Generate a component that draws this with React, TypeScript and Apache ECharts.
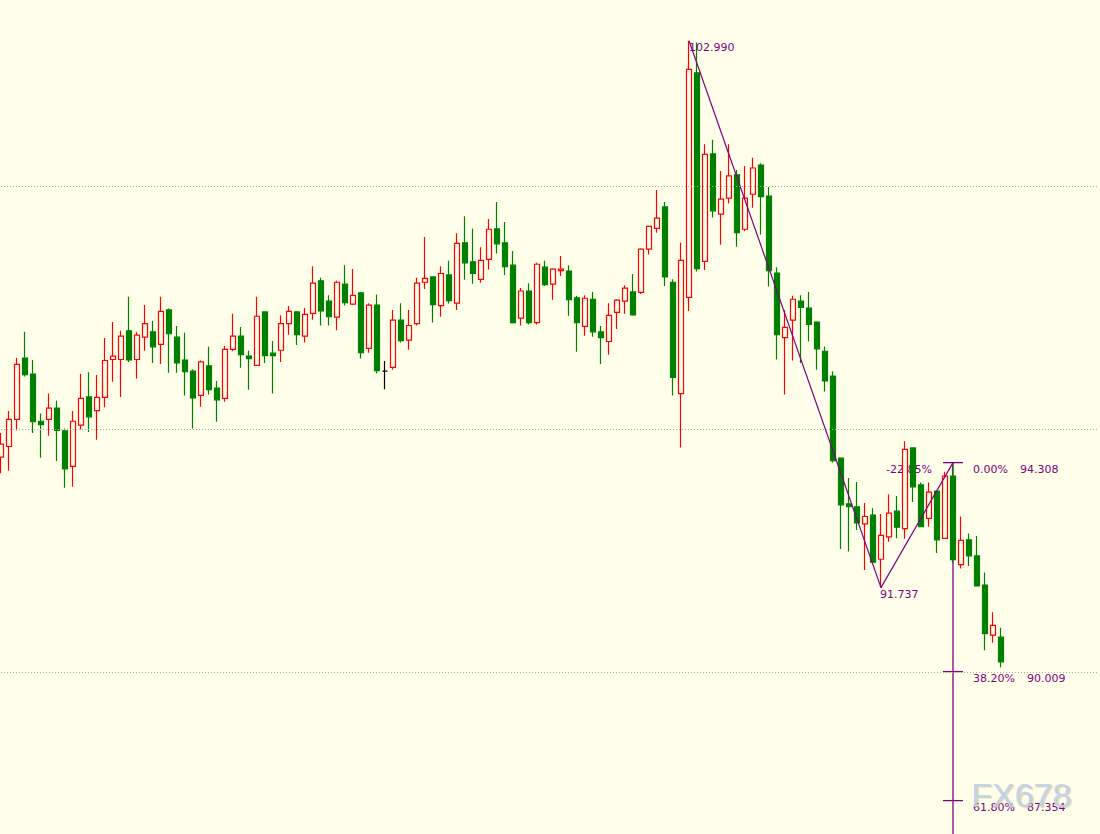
import React, { useEffect, useRef } from "react";
import * as echarts from "echarts";

// [open, close, low, high]
const candles: number[][] = [
  [94.42, 94.69, 94.09, 94.92],
  [94.64, 95.20, 94.14, 95.37],
  [95.20, 96.33, 94.97, 96.46],
  [96.46, 96.12, 96.08, 97.00],
  [96.13, 95.15, 94.92, 96.42],
  [95.16, 95.09, 94.41, 95.32],
  [95.20, 95.43, 94.86, 95.73],
  [95.43, 94.97, 94.34, 95.58],
  [94.96, 94.18, 93.79, 95.01],
  [94.23, 95.16, 93.81, 95.37],
  [95.08, 95.63, 94.99, 96.13],
  [95.66, 95.25, 94.94, 96.17],
  [95.38, 95.65, 94.78, 96.11],
  [95.65, 96.41, 95.45, 96.87],
  [96.43, 96.50, 95.97, 97.20],
  [96.43, 96.91, 95.66, 97.02],
  [97.02, 96.42, 96.38, 97.72],
  [96.43, 96.93, 96.04, 96.99],
  [96.89, 97.17, 96.61, 97.55],
  [97.00, 96.69, 96.36, 97.22],
  [96.74, 97.42, 96.34, 97.72],
  [97.45, 96.96, 96.16, 97.48],
  [96.89, 96.36, 96.16, 97.12],
  [96.42, 96.18, 95.69, 96.98],
  [96.19, 95.64, 95.01, 96.23],
  [95.69, 96.38, 95.46, 96.41],
  [96.30, 95.81, 95.71, 96.69],
  [95.84, 95.60, 95.15, 95.99],
  [95.63, 96.64, 95.56, 96.71],
  [96.64, 96.91, 96.60, 97.37],
  [96.91, 96.53, 96.26, 97.10],
  [96.50, 96.45, 95.81, 96.61],
  [96.31, 97.32, 96.31, 97.72],
  [97.41, 96.51, 96.36, 97.41],
  [96.56, 96.51, 95.73, 96.81],
  [96.62, 97.17, 96.38, 97.34],
  [97.17, 97.42, 96.94, 97.53],
  [97.41, 96.94, 96.73, 97.43],
  [96.91, 97.36, 96.78, 97.49],
  [97.38, 98.00, 97.25, 98.35],
  [98.05, 97.43, 97.13, 98.11],
  [97.63, 97.31, 97.13, 97.75],
  [97.30, 98.02, 97.03, 98.05],
  [97.98, 97.60, 97.54, 98.37],
  [97.57, 97.75, 97.55, 98.29],
  [97.80, 96.57, 96.45, 97.82],
  [96.66, 97.55, 96.57, 97.59],
  [97.55, 96.20, 96.14, 97.77],
  [96.19, 96.19, 95.82, 96.40],
  [96.27, 97.24, 96.22, 97.45],
  [97.24, 96.82, 96.78, 97.59],
  [96.83, 97.13, 96.63, 97.45],
  [97.17, 98.00, 97.13, 98.11],
  [98.02, 98.10, 97.88, 98.95],
  [98.13, 97.56, 97.19, 98.14],
  [97.54, 98.20, 97.31, 98.35],
  [98.17, 97.64, 97.58, 98.46],
  [97.59, 98.82, 97.45, 99.03],
  [98.83, 98.42, 98.07, 99.38],
  [98.44, 98.20, 97.99, 99.12],
  [98.08, 98.47, 98.01, 98.74],
  [98.49, 99.11, 98.28, 99.32],
  [99.12, 98.81, 98.61, 99.67],
  [98.83, 98.34, 98.17, 99.26],
  [98.37, 97.19, 97.17, 98.66],
  [97.28, 97.84, 97.13, 97.90],
  [97.84, 97.19, 97.15, 98.00],
  [97.19, 98.39, 97.15, 98.42],
  [98.33, 97.97, 97.94, 98.46],
  [97.98, 98.29, 97.66, 98.31],
  [98.26, 98.29, 98.15, 98.56],
  [98.25, 97.66, 97.33, 98.37],
  [97.70, 97.19, 96.59, 97.74],
  [97.11, 97.69, 96.92, 97.75],
  [97.67, 97.00, 96.90, 97.82],
  [97.00, 96.88, 96.34, 97.12],
  [96.80, 97.34, 96.53, 97.59],
  [97.40, 97.65, 97.06, 97.67],
  [97.63, 97.90, 97.37, 97.96],
  [97.82, 97.35, 97.33, 98.19],
  [97.81, 98.70, 97.78, 98.72],
  [98.70, 99.17, 98.59, 99.17],
  [99.13, 99.34, 99.04, 99.92],
  [99.57, 98.13, 97.94, 99.67],
  [98.02, 96.06, 95.69, 98.08],
  [95.73, 98.47, 94.62, 98.83],
  [97.71, 102.40, 97.43, 102.99],
  [102.33, 98.30, 98.24, 102.95],
  [98.45, 100.65, 98.27, 100.86],
  [100.66, 99.49, 99.35, 100.95],
  [99.42, 99.73, 98.79, 100.31],
  [99.75, 100.21, 99.64, 100.86],
  [100.23, 99.04, 98.75, 100.33],
  [99.11, 99.75, 99.07, 100.41],
  [99.83, 100.37, 99.55, 100.58],
  [100.43, 99.78, 99.00, 100.47],
  [99.79, 98.26, 97.93, 99.98],
  [98.21, 96.94, 96.43, 98.33],
  [96.88, 97.09, 95.71, 97.45],
  [97.24, 97.67, 96.41, 97.74],
  [97.63, 97.50, 96.36, 97.75],
  [97.49, 97.15, 96.80, 97.82],
  [97.20, 96.65, 96.22, 97.20],
  [96.60, 95.99, 95.77, 96.70],
  [96.09, 94.35, 94.31, 96.19],
  [94.40, 93.44, 92.53, 94.42],
  [93.46, 93.40, 92.48, 93.99],
  [93.40, 93.07, 92.92, 93.91],
  [93.05, 93.20, 92.10, 93.48],
  [93.23, 92.26, 92.26, 93.37],
  [92.32, 92.81, 91.737, 93.25],
  [92.78, 93.27, 92.68, 93.66],
  [93.31, 92.98, 92.75, 93.62],
  [92.95, 94.58, 92.74, 94.75],
  [94.61, 93.81, 93.50, 94.61],
  [93.85, 92.99, 92.99, 93.90],
  [93.16, 93.70, 92.99, 93.90],
  [93.72, 92.72, 92.45, 93.72],
  [92.75, 94.03, 92.75, 94.12],
  [94.03, 92.31, 92.25, 94.308],
  [92.21, 92.71, 92.13, 93.20],
  [92.72, 92.39, 92.18, 92.85],
  [92.39, 91.77, 91.76, 92.80],
  [91.79, 90.79, 90.45, 92.05],
  [90.76, 90.96, 90.60, 91.23],
  [90.72, 90.21, 90.10, 90.91],
];

const emptySlotsAfter = 12;
const categories: string[] = [
  ...candles.map((_, i) => String(i + 1)),
  ...Array.from({ length: emptySlotsAfter }, (_, i) => "f" + (i + 1)),
];

const gridLevels = [90, 95, 100];
const yMin = 86.667;
const yMax = 103.827;

const zigzagIndex = [86, 110, 119];
const zigzagValue = [102.99, 91.737, 94.308];
const zigzagLabels = ["102.990", "91.737", "-22.85%"];

const fibIndex = 119;
const fibPercent = ["0.00%", "38.20%", "61.80%"];
const fibValue = [94.308, 90.009, 87.354];

const BG = "#FFFFEA";
const RED = "#FF0000";
const GREEN = "#008000";
const PURPLE = "#800080";
const FONT = '11px "DejaVu Sans"';

function measure(text: string): number {
  const c = document.createElement("canvas").getContext("2d");
  if (!c) return text.length * 6.5;
  c.font = FONT;
  return c.measureText(text).width;
}

export default function App() {
  const ref = useRef<HTMLDivElement>(null);

  useEffect(() => {
    if (!ref.current) return;
    const chart = echarts.init(ref.current, undefined, { renderer: "svg" });

    // label offsets relative to each zigzag point: [dx, dy, align]
    const zzOffsets: [number, number, string][] = [
      [0, 6.5, "left"],
      [-1, 6.5, "left"],
      [-21, 7, "right"],
    ];

    const candleData = candles.map((c) =>
      c[0] === c[1]
        ? {
            value: c,
            itemStyle: {
              color: "#000000",
              color0: "#000000",
              borderColor: "#000000",
              borderColor0: "#000000",
            },
          }
        : c
    );

    const option: any = {
      animation: false,
      backgroundColor: BG,
      grid: { left: 1, right: 3, top: 0, bottom: 0 },
      xAxis: {
        type: "category",
        data: categories,
        boundaryGap: false,
        show: false,
      },
      yAxis: {
        type: "value",
        min: yMin,
        max: yMax,
        show: false,
        splitLine: { show: false },
      },
      series: [
        {
          type: "line",
          data: [],
          z: 1,
          silent: true,
          markLine: {
            silent: true,
            symbol: ["none", "none"],
            label: { show: false },
            lineStyle: { color: "#A8A8A8", type: [1, 2], width: 1 },
            data: gridLevels.map((v) => ({ yAxis: v })),
          },
        },
        {
          type: "custom",
          z: 1,
          silent: true,
          data: zigzagIndex.map((x, i) => [x, zigzagValue[i]]),
          renderItem: (params: any, api: any) => {
            const i = params.dataIndex;
            const p = api.coord([api.value(0), api.value(1)]);
            const o = zzOffsets[i];
            return {
              type: "text",
              x: p[0] + o[0],
              y: p[1] + o[1],
              style: {
                text: zigzagLabels[i],
                fill: PURPLE,
                font: FONT,
                align: o[2],
                verticalAlign: "middle",
              },
            };
          },
        },
        {
          type: "custom",
          z: 1,
          silent: true,
          data: fibValue.map((v) => [fibIndex, v]),
          renderItem: (params: any, api: any) => {
            const i = params.dataIndex;
            const p = api.coord([api.value(0), api.value(1)]);
            const cs = params.coordSys;
            const pct = fibPercent[i];
            const w = measure(pct);
            const children: any[] = [
              {
                type: "line",
                shape: { x1: p[0] - 10, y1: p[1], x2: p[0] + 10, y2: p[1] },
                style: { stroke: PURPLE, lineWidth: 1.3 },
              },
              {
                type: "text",
                x: p[0] + 20,
                y: p[1] + 7,
                style: {
                  text: pct,
                  fill: PURPLE,
                  font: FONT,
                  align: "left",
                  verticalAlign: "middle",
                },
              },
              {
                type: "text",
                x: p[0] + 20 + w + 12,
                y: p[1] + 7,
                style: {
                  text: fibValue[i].toFixed(3),
                  fill: PURPLE,
                  font: FONT,
                  align: "left",
                  verticalAlign: "middle",
                },
              },
            ];
            if (i === 0) {
              children.push({
                type: "line",
                shape: { x1: p[0], y1: p[1], x2: p[0], y2: cs.y + cs.height + 2 },
                style: { stroke: PURPLE, lineWidth: 1.3 },
              });
            }
            return { type: "group", children };
          },
        },
        {
          type: "candlestick",
          z: 2,
          barWidth: 5,
          clip: false,
          data: candleData,
          itemStyle: {
            color: BG,
            color0: GREEN,
            borderColor: RED,
            borderColor0: GREEN,
            borderColorDoji: "#000000",
            borderWidth: 1.2,
          },
        },
        {
          type: "line",
          z: 3,
          silent: true,
          data: zigzagIndex.map((x, i) => [x, zigzagValue[i]]),
          symbol: "none",
          lineStyle: { color: PURPLE, width: 1.2 },
        },
      ],
      graphic: [
        {
          type: "text",
          left: 973,
          top: 779,
          z: 100,
          style: {
            text: "FX678",
            font: '34px "Liberation Sans"',
            fill: "rgba(205,180,130,0.5)",
          },
        },
        {
          type: "text",
          left: 971,
          top: 778,
          z: 101,
          style: {
            text: "FX678",
            font: '34px "Liberation Sans"',
            fill: "rgba(188,208,238,0.9)",
          },
        },
      ],
    };

    chart.setOption(option);
    return () => chart.dispose();
  }, []);

  return (
    <div
      ref={ref}
      style={{
        position: "fixed",
        left: 0,
        top: 0,
        width: 1100,
        height: 834,
        background: BG,
      }}
    />
  );
}
